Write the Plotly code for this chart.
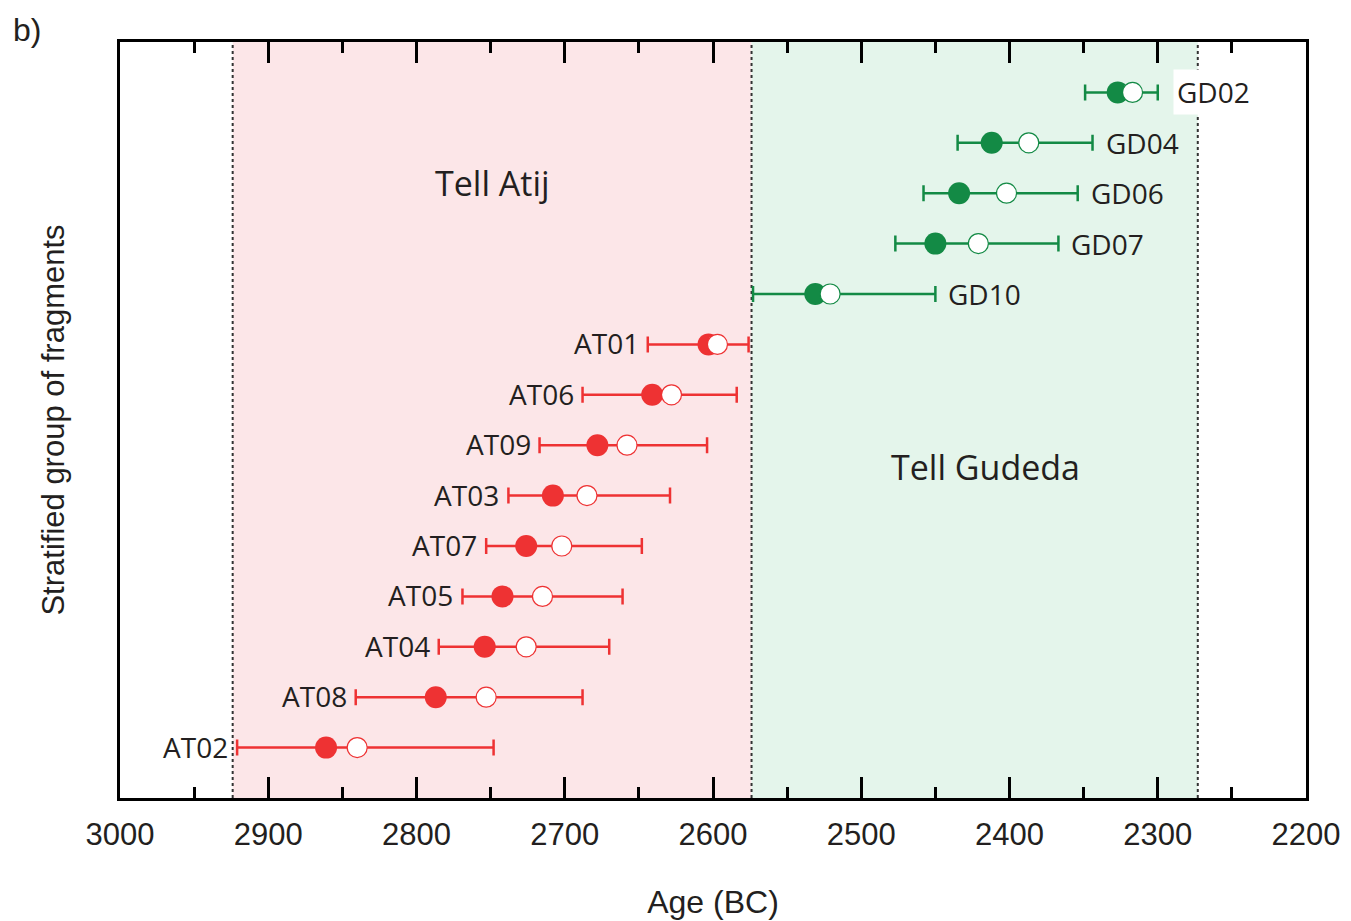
import plotly.graph_objects as go

# Stratified fragment groups, top to bottom
groups = ["GD02", "GD04", "GD06", "GD07", "GD10",
          "AT01", "AT06", "AT09", "AT03", "AT07", "AT05", "AT04", "AT08", "AT02"]
# Row position of each group (top row = 14)
rows = [14, 13, 12, 11, 10, 9, 8, 7, 6, 5, 4, 3, 2, 1]
# Ages (BC): filled estimate, open estimate, older and younger limits of the range
age_filled = [2327, 2412, 2434, 2450, 2531,
              2603, 2641, 2678, 2708, 2726, 2742, 2754, 2787, 2861]
age_open = [2317, 2387, 2402, 2421, 2521,
            2597, 2628, 2658, 2685, 2702, 2715, 2726, 2753, 2840]
age_older = [2349, 2435, 2458, 2477, 2573,
             2644, 2688, 2717, 2738, 2753, 2769, 2785, 2841, 2921]
age_younger = [2300, 2344, 2354, 2367, 2450,
               2576, 2584, 2604, 2629, 2648, 2661, 2670, 2688, 2748]
# Site periods (BC)
atij_span = [2924, 2574]
gudeda_span = [2574, 2273]

RED = "#EE3233"
GREEN = "#138A45"
TEXT = "#231F20"
LABEL_FONT = "Open Sans"
AXIS_FONT = "Liberation Sans, Arial"

fig = go.Figure()

for site, color in (("GD", GREEN), ("AT", RED)):
    idx = [i for i, g in enumerate(groups) if g.startswith(site)]
    xs = [age_filled[i] for i in idx]
    ys = [rows[i] for i in idx]
    plus = [age_older[i] - age_filled[i] for i in idx]
    minus = [age_filled[i] - age_younger[i] for i in idx]
    fig.add_trace(go.Scatter(
        x=xs, y=ys, mode="markers",
        marker=dict(size=22, color=color, line=dict(width=0)),
        error_x=dict(type="data", symmetric=False, array=plus, arrayminus=minus,
                     color=color, thickness=2.5, width=8),
        showlegend=False, hoverinfo="skip"))
    fig.add_trace(go.Scatter(
        x=[age_open[i] for i in idx], y=ys, mode="markers",
        marker=dict(size=20, color="white", line=dict(width=1.2, color=color)),
        showlegend=False, hoverinfo="skip"))

# Group labels: GD to the right of the range, AT to the left
for i, g in enumerate(groups):
    if g.startswith("GD"):
        fig.add_annotation(
            x=age_younger[i], y=rows[i], text=g, showarrow=False,
            xanchor="left", yanchor="middle", xshift=(15 if g == "GD02" else 9),
            font=dict(family=LABEL_FONT, size=28, color=TEXT),
            bgcolor=("white" if g == "GD02" else None), borderpad=3)
    else:
        fig.add_annotation(
            x=age_older[i], y=rows[i], text=g, showarrow=False,
            xanchor="right", yanchor="middle", xshift=-7, yshift=1,
            font=dict(family=LABEL_FONT, size=28, color=TEXT))

# Site names
fig.add_annotation(x=2749, y=12.2, text="Tell Atij", showarrow=False,
                   font=dict(family=LABEL_FONT, size=34, color=TEXT))
fig.add_annotation(x=2416, y=6.57, text="Tell Gudeda", showarrow=False,
                   font=dict(family=LABEL_FONT, size=34, color=TEXT))
# Panel letter
fig.add_annotation(x=-0.078, y=1.016, xref="paper", yref="paper", text="b)",
                   showarrow=False, xanchor="center", yanchor="middle",
                   font=dict(family=AXIS_FONT, size=32, color=TEXT))

# Shaded site periods with dotted boundaries
fig.add_shape(type="rect", x0=atij_span[0], x1=atij_span[1], y0=0, y1=1, yref="paper",
              fillcolor="#FCE6E8", line=dict(width=0), layer="below")
fig.add_shape(type="rect", x0=gudeda_span[0], x1=gudeda_span[1], y0=0, y1=1, yref="paper",
              fillcolor="#E4F5EB", line=dict(width=0), layer="below")
for xb in (atij_span[0], atij_span[1], gudeda_span[1]):
    fig.add_shape(type="line", x0=xb, x1=xb, y0=0, y1=1, yref="paper",
                  line=dict(color="#333333", width=2, dash="dot"), layer="below")

fig.update_layout(
    width=1351, height=921,
    margin=dict(l=120, r=45, t=42, b=123, autoexpand=False),
    paper_bgcolor="white", plot_bgcolor="white",
    xaxis=dict(
        range=[3000, 2200], dtick=100, tick0=2200, automargin=False,
        ticks="inside", ticklen=21, tickwidth=2.5, tickcolor="black",
        minor=dict(dtick=50, tick0=2200, ticks="inside", ticklen=11,
                   tickwidth=2.5, tickcolor="black"),
        showline=True, linewidth=2.5, linecolor="black", mirror="ticks",
        showgrid=False, zeroline=False,
        tickfont=dict(family=AXIS_FONT, size=31, color=TEXT),
        ticklabelstandoff=7,
        title=dict(text="Age (BC)", standoff=40,
                   font=dict(family=AXIS_FONT, size=32, color=TEXT)),
    ),
    yaxis=dict(
        range=[0, 15], showticklabels=False, ticks="", automargin=False,
        showline=True, linewidth=2.5, linecolor="black", mirror=True,
        showgrid=False, zeroline=False,
        title=dict(text="Stratified group of fragments", standoff=44,
                   font=dict(family=AXIS_FONT, size=31, color=TEXT)),
    ),
)

fig.write_html("out.html")
